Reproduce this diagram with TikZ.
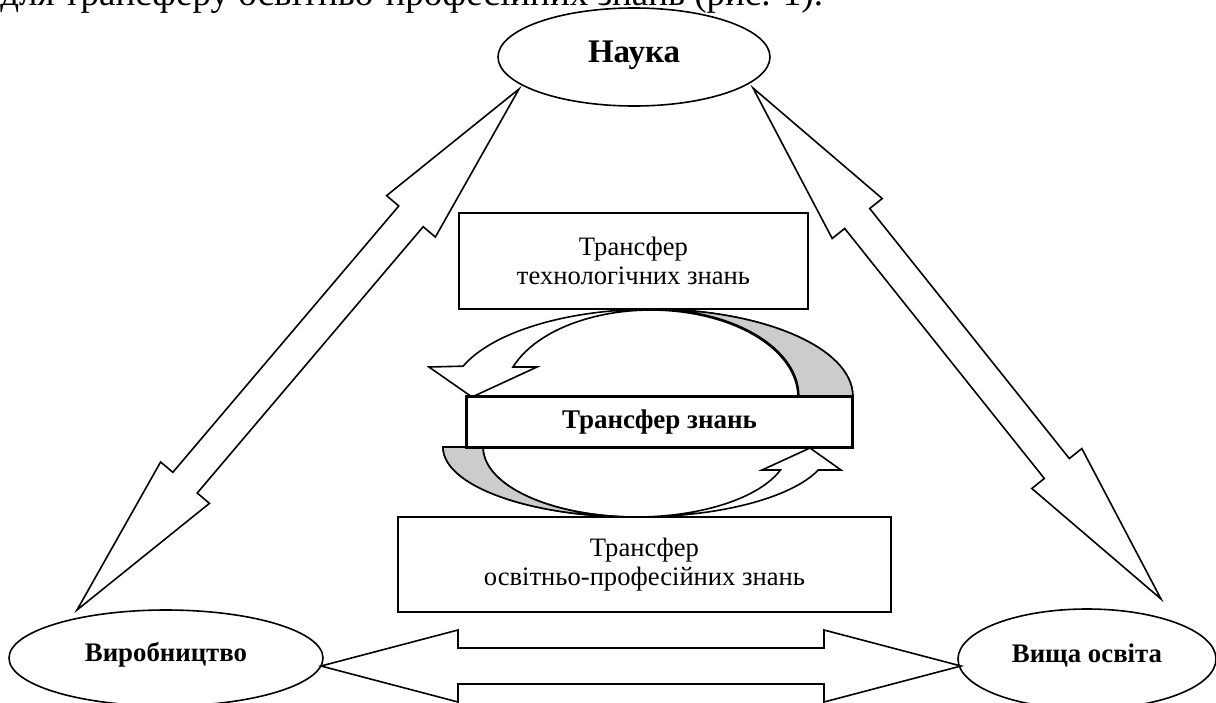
\documentclass[tikz,border=0pt]{standalone}
\usepackage{fontspec}
\setmainfont{Liberation Serif}
\usetikzlibrary{calc,shapes.geometric}

% two-headed block arrow: from, to, head length, head half width, shaft half width
\newcommand{\blockdbl}[5]{%
  \draw[blockline] (#1)
    -- ($(#1)!#3!(#2)!#4!90:(#2)$)
    -- ($(#1)!#3!(#2)!#5!90:(#2)$)
    -- ($(#2)!#3!(#1)!#5!-90:(#1)$)
    -- ($(#2)!#3!(#1)!#4!-90:(#1)$)
    -- (#2)
    -- ($(#2)!#3!(#1)!#4!90:(#1)$)
    -- ($(#2)!#3!(#1)!#5!90:(#1)$)
    -- ($(#1)!#3!(#2)!#5!-90:(#2)$)
    -- ($(#1)!#3!(#2)!#4!-90:(#2)$)
    -- cycle;}

\begin{document}
\begin{tikzpicture}[
  x=0.5pt, y=0.5pt,
  oval/.style={draw, ellipse, line width=0.8pt, inner sep=0pt,
               text height=9pt, text depth=6pt, font=\fontsize{13.4}{15}\selectfont\bfseries},
  tbox/.style={draw, line width=0.8pt, align=center, inner sep=0pt,
               font=\fontsize{13.3}{14.5}\selectfont},
  blockline/.style={line width=0.8pt, line join=miter, fill=white},
  shade/.style={fill=black!20, draw, line width=0.8pt}
]
  \useasboundingbox (0,0) rectangle (1216,-702);
  \clip (0,0) rectangle (1216,-702);

  % cut line of the page text above the figure
  \node[anchor=base west, inner sep=0pt, font=\fontsize{18.5}{20}\selectfont] (pagetext) at (0,-5)
    {для трансферу освітньо-професійних знань (рис. 1).};

  \node[oval, minimum width=136pt, minimum height=49pt, text height=11pt,
        font=\fontsize{16.5}{18}\selectfont\bfseries] (nauka) at (634,-57) {Наука};
  \node[oval, minimum width=157pt, minimum height=48pt] (vyrob) at (166,-658) {Виробництво};
  \node[oval, minimum width=129pt, minimum height=50pt] (osvita) at (1087,-659) {Вища освіта};

  \node[tbox, minimum width=174.5pt, minimum height=48pt] (techbox) at (633.5,-261)
    {Трансфер\\технологічних знань};
  \node[tbox, minimum width=192.5pt, minimum height=25pt, font=\fontsize{13.5}{15}\selectfont\bfseries]
    (knowbox) at (659.5,-422) {Трансфер знань};
  \node[tbox, minimum width=246.5pt, minimum height=47.5pt] (edubox) at (644.5,-564.5)
    {Трансфер\\освітньо-професійних знань};

  % tips of the block arrows
  \coordinate (naukaL) at (519,-89);
  \coordinate (naukaR) at (753,-88);
  \coordinate (vyrobT) at (77,-610);
  \coordinate (vyrobR) at (321,-666);
  \coordinate (osvitaT) at (1161,-599);
  \coordinate (osvitaL) at (961,-666);

  \blockdbl{naukaL}{vyrobT}{83.5pt}{16pt}{8pt}
  \blockdbl{naukaR}{osvitaT}{83.5pt}{16pt}{8pt}
  \blockdbl{vyrobR}{osvitaL}{68.5pt}{18pt}{9pt}

  % upper curved arrow
  \draw[blockline] (knowbox.north east)
    arc[start angle=0, end angle=159.8, x radius=100.5pt, y radius=43.5pt]
    -- (429,-367) -- (472,-397) -- (537,-367) -- (513,-367)
    arc[start angle=159.8, end angle=0, x radius=73.5pt, y radius=43.5pt] -- cycle;
  \filldraw[shade] (knowbox.north east)
    arc[start angle=0, end angle=90, x radius=100.5pt, y radius=43.5pt]
    arc[start angle=90, end angle=0, x radius=73.5pt, y radius=43.5pt] -- cycle;

  % lower curved arrow
  \draw[blockline] (443,-447)
    arc[start angle=180, end angle=340.8, x radius=96.5pt, y radius=35pt]
    -- (841,-470) -- (810,-448) -- (762,-470) -- (780.5,-470)
    arc[start angle=340.8, end angle=180, x radius=76.5pt, y radius=35pt] -- cycle;
  \filldraw[shade] (443,-447)
    arc[start angle=180, end angle=270, x radius=96.5pt, y radius=35pt]
    arc[start angle=270, end angle=180, x radius=76.5pt, y radius=35pt] -- cycle;

  \draw[line width=0.8pt] (knowbox.south west) rectangle (knowbox.north east);
\end{tikzpicture}
\end{document}
